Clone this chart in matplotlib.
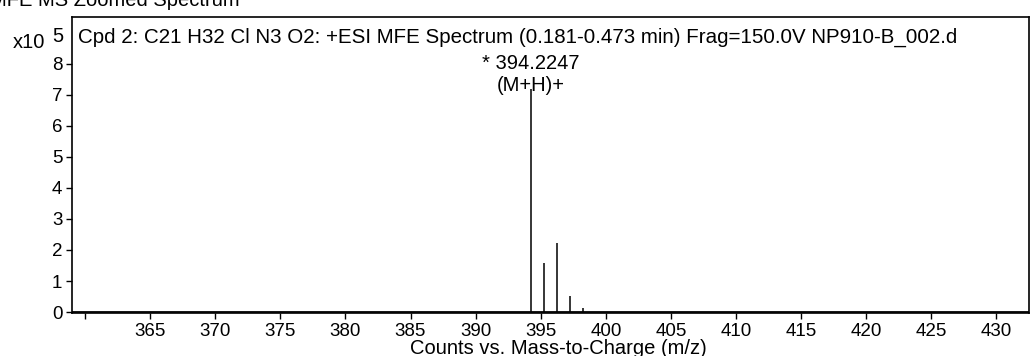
import matplotlib
matplotlib.use("Agg")
import matplotlib.pyplot as plt
import numpy as np

plt.rcParams['font.family'] = ['Liberation Sans', 'DejaVu Sans']

# data (counts in units of 10^5)
peak_mz = [394.2247, 395.23, 396.22, 397.22, 398.22]
peak_counts = [7.18, 1.58, 2.22, 0.52, 0.14]
x_ticks = [360, 365, 370, 375, 380, 385, 390, 395, 400, 405, 410, 415, 420, 425, 430]
x_labels = ["", "365", "370", "375", "380", "385", "390", "395", "400", "405",
            "410", "415", "420", "425", "430"]
y_ticks = [0, 1, 2, 3, 4, 5, 6, 7, 8]
header = "Cpd 2: C21 H32 Cl N3 O2: +ESI MFE Spectrum (0.181-0.473 min) Frag=150.0V NP910-B_002.d"

FS = 14.5
TS = 13.5

fig = plt.figure(figsize=(10.30, 3.56), dpi=100)
ax = fig.add_axes([72/1030, 1 - 313/356, 1 - 72/1030 - 0.001, (313 - 17)/356])

# baseline + sticks
ax.plot([359.0, 432.5], [0, 0], color='black', lw=1.3)
ax.vlines(peak_mz, 0, peak_counts, color='black', lw=1.1)

ax.set_xlim(359.0, 432.5)
ax.set_ylim(-0.03, 9.5)
ax.set_xticks(x_ticks)
ax.set_xticklabels(x_labels)
ax.set_yticks(y_ticks)
ax.tick_params(axis='both', direction='out', length=4, width=1, labelsize=TS)
ax.tick_params(axis='x', pad=3)
ax.tick_params(axis='y', pad=3)
for s in ax.spines.values():
    s.set_linewidth(1.2)

fig.text(558/1030, 1 - 354/356, "Counts vs. Mass-to-Charge (m/z)", ha='center', va='baseline', fontsize=FS)

ax.text(0.006, 1 - 20/296, header, transform=ax.transAxes, ha='left', va='center', fontsize=14.8)
ax.text(peak_mz[0], 8.0, "* 394.2247", ha='center', va='center', fontsize=FS)
ax.text(peak_mz[0], 7.3, "(M+H)+", ha='center', va='center', fontsize=FS)

fig.text(13/1030, 1 - 43/356, "x10", ha='left', va='center', fontsize=FS)
fig.text(52/1030, 1 - 36/356, "5", ha='left', va='center', fontsize=FS)
fig.text(-10/1030, 1 - 0/356, "MFE MS Zoomed Spectrum", ha='left', va='center', fontsize=FS)

fig.savefig("out.png", dpi=100)
